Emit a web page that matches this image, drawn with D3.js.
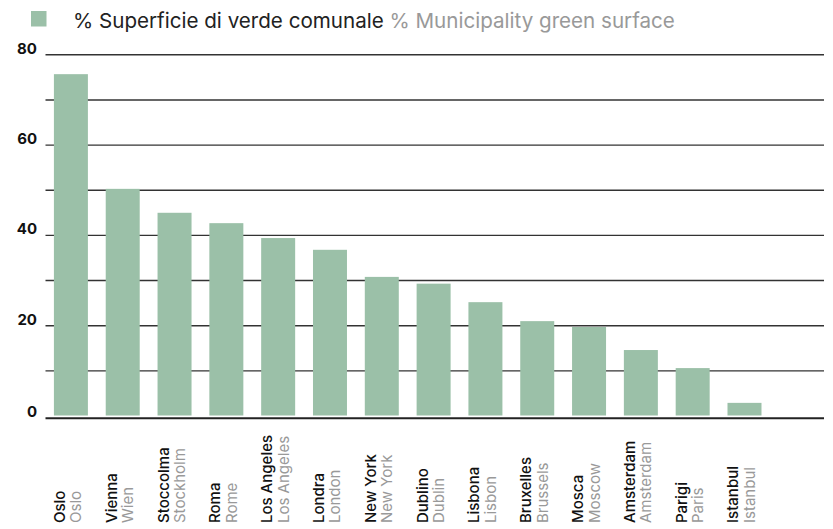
<!DOCTYPE html>
<html><head><meta charset="utf-8">
<script src="https://cdn.jsdelivr.net/npm/d3@7"></script>
<style>
body{margin:0;background:#fff;}
text{font-family:Inter,"Noto Sans",sans-serif;}
</style></head>
<body>
<svg id="c" width="833" height="529"></svg>
<script>
const categoriesIt = ["Oslo","Vienna","Stoccolma","Roma","Los Angeles","Londra","New York","Dublino","Lisbona","Bruxelles","Mosca","Amsterdam","Parigi","Istanbul"];
const categoriesEn = ["Oslo","Wien","Stockholm","Rome","Los Angeles","London","New York","Dublin","Lisbon","Brussels","Moscow","Amsterdam","Paris","Istanbul"];
const values = [75.6, 50.2, 44.9, 42.6, 39.3, 36.7, 30.7, 29.2, 25.1, 20.9, 19.6, 14.5, 10.5, 2.8];
const yTicks = [0,10,20,30,40,50,60,70,80];
const yTickLabels = ["0","","20","","40","","60","","80"];
const legendIt = "% Superficie di verde comunale";
const legendEn = "% Municipality green surface";

const svg = d3.select("#c");
const green = "#9bc0a8";
const gridX0 = 45.5, gridX1 = 824;

const y = d3.scaleLinear().domain([0,80]).range([415.5,54.3]);
const x = d3.scaleBand().domain(categoriesIt).range([45, 770.4]).paddingInner(0.344).paddingOuter(0.172);

// gridlines
const yAxis = d3.axisLeft(y).tickValues(yTicks.filter(t=>t>0)).tickSize(-(gridX1-gridX0)).tickFormat("");
const ga = svg.append("g").attr("transform",`translate(${gridX0},0)`).call(yAxis);
ga.select(".domain").remove();
ga.selectAll(".tick line").attr("stroke","#333").attr("stroke-width",1.4);

// tick labels
svg.append("g").selectAll("text").data(yTicks).join("text")
  .attr("x",37).attr("y",d=> d===0 ? y(d)+1.5 : y(d)-0.5)
  .attr("text-anchor","end").attr("font-size",15).attr("font-weight",700).attr("fill","#111")
  .text((d,i)=>yTickLabels[i]);

// bars
svg.append("g").selectAll("rect").data(values).join("rect")
  .attr("x",(d,i)=>x(categoriesIt[i])).attr("width",x.bandwidth())
  .attr("y",d=>y(d)).attr("height",d=>y(0)-y(d)).attr("fill",green);

// baseline
svg.append("line").attr("x1",gridX0).attr("x2",gridX1).attr("y1",418.3).attr("y2",418.3)
  .attr("stroke","#222").attr("stroke-width",2);

// x labels
const lab = svg.append("g").selectAll("g").data(categoriesIt).join("g")
  .attr("transform",(d)=>`translate(${x(d)},523) rotate(-90)`);
lab.append("text").attr("x",0).attr("y",11).attr("font-size",15).attr("font-weight",500).attr("fill","#111").text(d=>d);
lab.append("text").attr("x",0).attr("y",27.5).attr("font-size",15).attr("font-weight",400).attr("fill","#999").text((d,i)=>categoriesEn[i]);

// legend
svg.append("rect").attr("x",31).attr("y",11).attr("width",15.5).attr("height",15.5).attr("fill",green);
const lt = svg.append("text").attr("x",73).attr("y",27.5).attr("font-size",20.6).attr("fill","#222");
lt.append("tspan").text(legendIt);
lt.append("tspan").attr("fill","#999").text(" " + legendEn);
</script>
</body></html>
